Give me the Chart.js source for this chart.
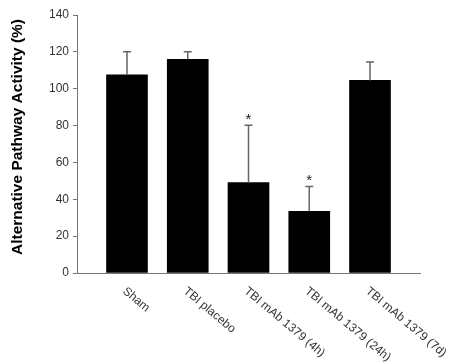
<!DOCTYPE html>
<html>
<head>
<meta charset="utf-8">
<script src="https://cdn.jsdelivr.net/npm/chart.js@4/dist/chart.umd.min.js"></script>
<style>
  html, body { margin: 0; padding: 0; background: #fff; }
  canvas { display: block; }
</style>
</head>
<body>
<canvas id="activityCanvas" width="452" height="364"></canvas>
<script>
// Values
const groups = ['Sham', 'TBI placebo', 'TBI mAb 1379 (4h)', 'TBI mAb 1379 (24h)', 'TBI mAb 1379 (7d)'];
const activity = [107.5, 116, 49, 33.5, 104.5];
const errorTop = [120, 120, 80.2, 47, 114.5];
const significant = [false, false, true, true, false];
const yTicks = [0, 20, 40, 60, 80, 100, 120, 140];

const FONT = '"Liberation Sans", Arial, sans-serif';

// error bars + asterisks + slanted category labels
const extras = {
    id: 'extras',
    afterDatasetsDraw(chart) {
        const ctx = chart.ctx;
        const yScale = chart.scales.y;
        const meta = chart.getDatasetMeta(0);
        ctx.save();
        meta.data.forEach((bar, i) => {
            const top = yScale.getPixelForValue(errorTop[i]);
            ctx.strokeStyle = '#666';
            ctx.lineWidth = 1.5;
            ctx.beginPath();
            ctx.moveTo(bar.x, bar.y);
            ctx.lineTo(bar.x, top);
            ctx.moveTo(bar.x - 4, top);
            ctx.lineTo(bar.x + 4, top);
            ctx.stroke();
            if (significant[i]) {
                ctx.fillStyle = '#222';
                ctx.font = '15px ' + FONT;
                ctx.textAlign = 'center';
                ctx.textBaseline = 'alphabetic';
                ctx.fillText('*', bar.x, top - 1);
            }
        });
        ctx.restore();
    },
    afterDraw(chart) {
        const ctx = chart.ctx;
        const xScale = chart.scales.x;
        ctx.save();
        ctx.fillStyle = '#333';
        ctx.font = '12px ' + FONT;
        ctx.textAlign = 'left';
        ctx.textBaseline = 'top';
        groups.forEach((g, i) => {
            const x = xScale.getPixelForValue(i);
            ctx.save();
            ctx.translate(x + 1, 285);
            ctx.rotate(40 * Math.PI / 180);
            ctx.fillText(g, 0, 0);
            ctx.restore();
        });
        // y axis title
        ctx.fillStyle = '#000';
        ctx.font = 'bold 15.5px ' + FONT;
        ctx.textAlign = 'center';
        ctx.textBaseline = 'middle';
        ctx.translate(18, 137);
        ctx.rotate(-Math.PI / 2);
        ctx.fillText('Alternative Pathway Activity (%)', 0, 0);
        ctx.restore();
    }
};

const ctx = document.getElementById('activityCanvas').getContext('2d');
new Chart(ctx, {
    type: 'bar',
    data: {
        datasets: [{
            data: activity.map((v, i) => ({ x: i, y: v })),
            backgroundColor: '#000',
            borderWidth: 0,
            barThickness: 41
        }]
    },
    options: {
        responsive: false,
        animation: false,
        layout: { padding: { top: 15, right: 32, left: 0, bottom: 0 } },
        plugins: { legend: { display: false }, tooltip: { enabled: false } },
        scales: {
            x: {
                type: 'linear',
                min: -0.823,
                max: 4.823,
                offset: false,
                grid: { display: false },
                border: { color: '#777', width: 1 },
                ticks: { display: false },
                afterFit: s => { s.height = 91; }
            },
            y: {
                min: 0,
                max: 140,
                afterBuildTicks: s => { s.ticks = yTicks.map(v => ({ value: v })); },
                grid: { drawOnChartArea: false, tickLength: 4, color: '#777' },
                border: { color: '#777', width: 1 },
                ticks: {
                    color: '#333',
                    font: { family: FONT, size: 12 },
                    padding: 4
                },
                afterFit: s => { s.width = 77; }
            }
        }
    },
    plugins: [extras]
});
</script>
</body>
</html>
